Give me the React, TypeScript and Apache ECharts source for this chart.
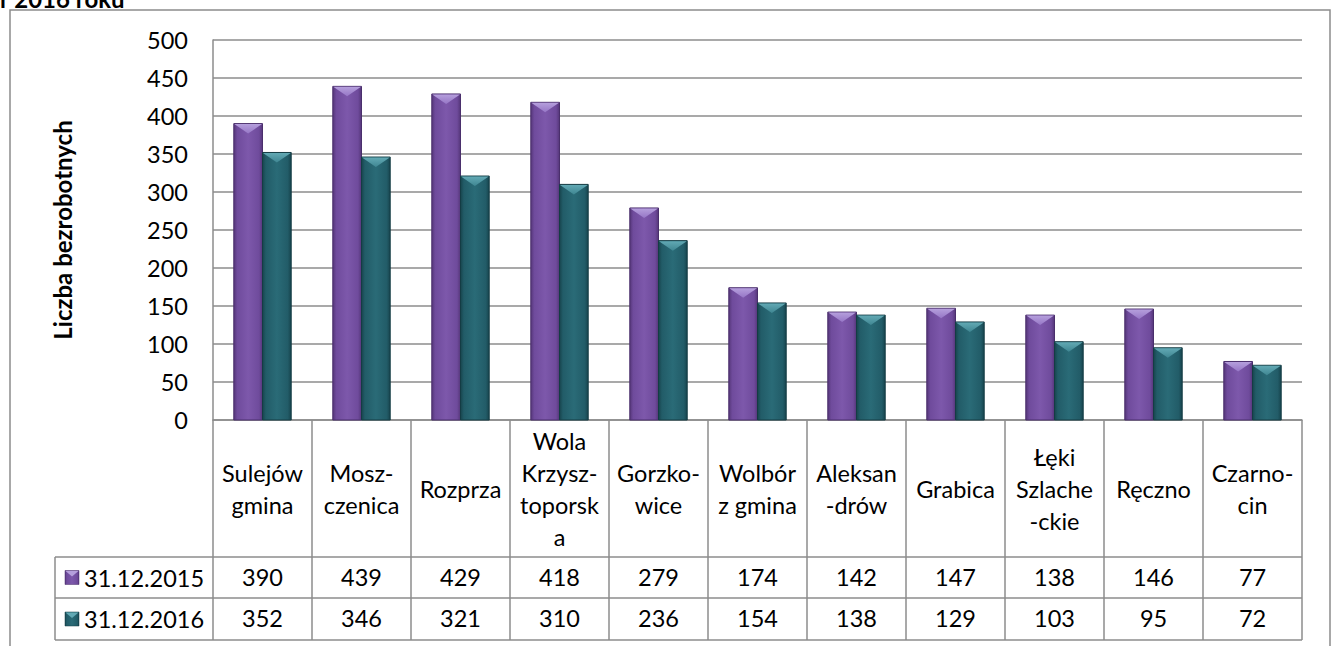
import { useEffect, useRef } from "react";
import * as echarts from "echarts";

const categories = [
  "Sulejów\ngmina",
  "Mosz-\nczenica",
  "Rozprza",
  "Wola\nKrzysz-\ntoporsk\na",
  "Gorzko-\nwice",
  "Wolbór\nz gmina",
  "Aleksan\n-drów",
  "Grabica",
  "Łęki\nSzlache\n-ckie",
  "Ręczno",
  "Czarno-\ncin",
];
const seriesNames = ["31.12.2015", "31.12.2016"];
const values2015 = [390, 439, 429, 418, 279, 174, 142, 147, 138, 146, 77];
const values2016 = [352, 346, 321, 310, 236, 154, 138, 129, 103, 95, 72];
const yMin = 0;
const yMax = 500;
const yInterval = 50;
const titleText = "r 2016 roku";
const yAxisTitle = "Liczba bezrobotnych";

const FONT = "Lato";
const FS = 23.5;
const GRID_L = 213;
const GRID_R = 1302;
const GRID_T = 40;
const GRID_B = 420;
const ROW1 = 557;
const ROW2 = 598;
const ROW3 = 640;
const TABLE_L = 55;
const LINE = "#8c8c8c";

const palettes = [
  {
    edge: "#4a2f6c",
    stops: ["#553679", "#6f4b9c", "#7d58ab", "#6f4b9c", "#553679"],
    top: ["#b59fdc", "#9676c6"],
  },
  {
    edge: "#143c44",
    stops: ["#17444d", "#225c68", "#2a6b77", "#225c68", "#17444d"],
    top: ["#62a9b4", "#3f8692"],
  },
];

function grad(stops: string[]) {
  return new echarts.graphic.LinearGradient(0, 0, 1, 0, [
    { offset: 0, color: stops[0] },
    { offset: 0.12, color: stops[1] },
    { offset: 0.5, color: stops[2] },
    { offset: 0.88, color: stops[3] },
    { offset: 1, color: stops[4] },
  ]);
}

function makeRender(side: number) {
  const p = palettes[side];
  return (_params: any, api: any) => {
    const idx = api.value(0);
    const v = api.value(1);
    const top = api.coord([idx, v]);
    const base = api.coord([idx, 0]);
    const band = api.size([1, 0])[0];
    const w = band * 0.29;
    const x0 = side === 0 ? top[0] - w : top[0];
    const yT = top[1];
    const yB = base[1];
    const h = yB - yT;
    const b = Math.min(10, h);
    return {
      type: "group",
      children: [
        {
          type: "rect",
          shape: { x: x0, y: yT, width: w, height: h },
          style: { fill: grad(p.stops), stroke: p.edge, lineWidth: 1 },
        },
        {
          type: "polygon",
          shape: {
            points: [
              [x0 + 0.5, yT + 0.5],
              [x0 + w - 0.5, yT + 0.5],
              [x0 + w / 2, yT + b],
            ],
          },
          style: {
            fill: new echarts.graphic.LinearGradient(0, 0, 0, 1, [
              { offset: 0, color: p.top[0] },
              { offset: 1, color: p.top[1] },
            ]),
          },
        },
      ],
    };
  };
}

export default function App() {
  const ref = useRef<HTMLDivElement>(null);
  useEffect(() => {
    if (!ref.current) return;
    const chart = echarts.init(ref.current, null, { renderer: "svg" });
    const allValues = [values2015, values2016];
    const rowCenters = [(ROW1 + ROW2) / 2, (ROW2 + ROW3) / 2];

    const graphics: any[] = [
      {
        type: "rect",
        shape: { x: 10, y: 10, width: 1320, height: 700 },
        style: { fill: "none", stroke: LINE, lineWidth: 1.5 },
        silent: true,
      },
      {
        type: "text",
        x: 0,
        y: 10,
        style: {
          text: titleText,
          font: `bold 24px ${FONT}`,
          fill: "#000",
          verticalAlign: "bottom",
        },
      },
      ...[ROW1, ROW2, ROW3].map((y) => ({
        type: "line",
        shape: { x1: TABLE_L, y1: y, x2: GRID_R, y2: y },
        style: { stroke: LINE, lineWidth: 1.5 },
      })),
      {
        type: "line",
        shape: { x1: TABLE_L, y1: ROW1, x2: TABLE_L, y2: ROW3 },
        style: { stroke: LINE, lineWidth: 1.5 },
      },
    ];
    seriesNames.forEach((name, i) => {
      const cy = rowCenters[i];
      const p = palettes[i];
      graphics.push({
        type: "rect",
        shape: { x: 65, y: cy - 7, width: 14, height: 14 },
        style: { fill: grad(p.stops), stroke: p.edge, lineWidth: 0.5 },
      });
      graphics.push({
        type: "polygon",
        shape: { points: [[65.5, cy - 6.5], [78.5, cy - 6.5], [72, cy - 1]] },
        style: { fill: p.top[0] },
      });
      graphics.push({
        type: "text",
        x: 84,
        y: cy,
        style: {
          text: name,
          font: `${FS}px ${FONT}`,
          fill: "#000",
          verticalAlign: "middle",
          align: "left",
        },
      });
    });

    const valueAxis = (vals: number[], offset: number) => ({
      type: "category",
      gridIndex: 0,
      position: "bottom",
      offset,
      data: vals.map((v) => String(v)),
      axisLine: { show: false },
      axisTick: { show: false },
      axisLabel: {
        interval: 0,
        margin: 20,
        verticalAlign: "middle",
        fontSize: FS,
        fontFamily: FONT,
        color: "#000",
      },
    });

    chart.setOption({
      animation: false,
      grid: {
        left: GRID_L,
        top: GRID_T,
        width: GRID_R - GRID_L,
        height: GRID_B - GRID_T,
        containLabel: false,
      },
      xAxis: [
        {
          type: "category",
          data: categories,
          position: "bottom",
          axisLine: { show: true, lineStyle: { color: LINE, width: 1.5 } },
          axisTick: {
            show: true,
            length: ROW3 - GRID_B,
            interval: 0,
            lineStyle: { color: LINE, width: 1.5 },
          },
          axisLabel: {
            interval: 0,
            margin: (ROW1 - GRID_B) / 2,
            verticalAlign: "middle",
            fontSize: FS,
            lineHeight: 32,
            fontFamily: FONT,
            color: "#000",
            align: "center",
          },
        },
        valueAxis(values2015, ROW1 - GRID_B),
        valueAxis(values2016, ROW2 - GRID_B),
      ],
      yAxis: {
        type: "value",
        min: yMin,
        max: yMax,
        interval: yInterval,
        name: yAxisTitle,
        nameLocation: "middle",
        nameRotate: 90,
        nameGap: 139,
        nameTextStyle: {
          fontSize: 24,
          fontWeight: "bold",
          fontFamily: FONT,
          color: "#000",
        },
        axisLine: { show: true, lineStyle: { color: LINE, width: 1.5 } },
        axisTick: { show: false },
        splitLine: { show: true, lineStyle: { color: LINE, width: 1.5 } },
        axisLabel: {
          fontSize: FS,
          fontFamily: FONT,
          color: "#000",
          margin: 25,
        },
      },
      graphic: graphics,
      series: allValues.map((vals, s) => ({
        type: "custom",
        name: seriesNames[s],
        xAxisIndex: 0,
        yAxisIndex: 0,
        renderItem: makeRender(s),
        encode: { x: 0, y: 1 },
        data: vals.map((v, i) => [i, v]),
        z: 3,
      })),
    });
    return () => chart.dispose();
  }, []);
  return (
    <div
      ref={ref}
      style={{ position: "absolute", left: 0, top: 0, width: 1333, height: 646 }}
    />
  );
}
